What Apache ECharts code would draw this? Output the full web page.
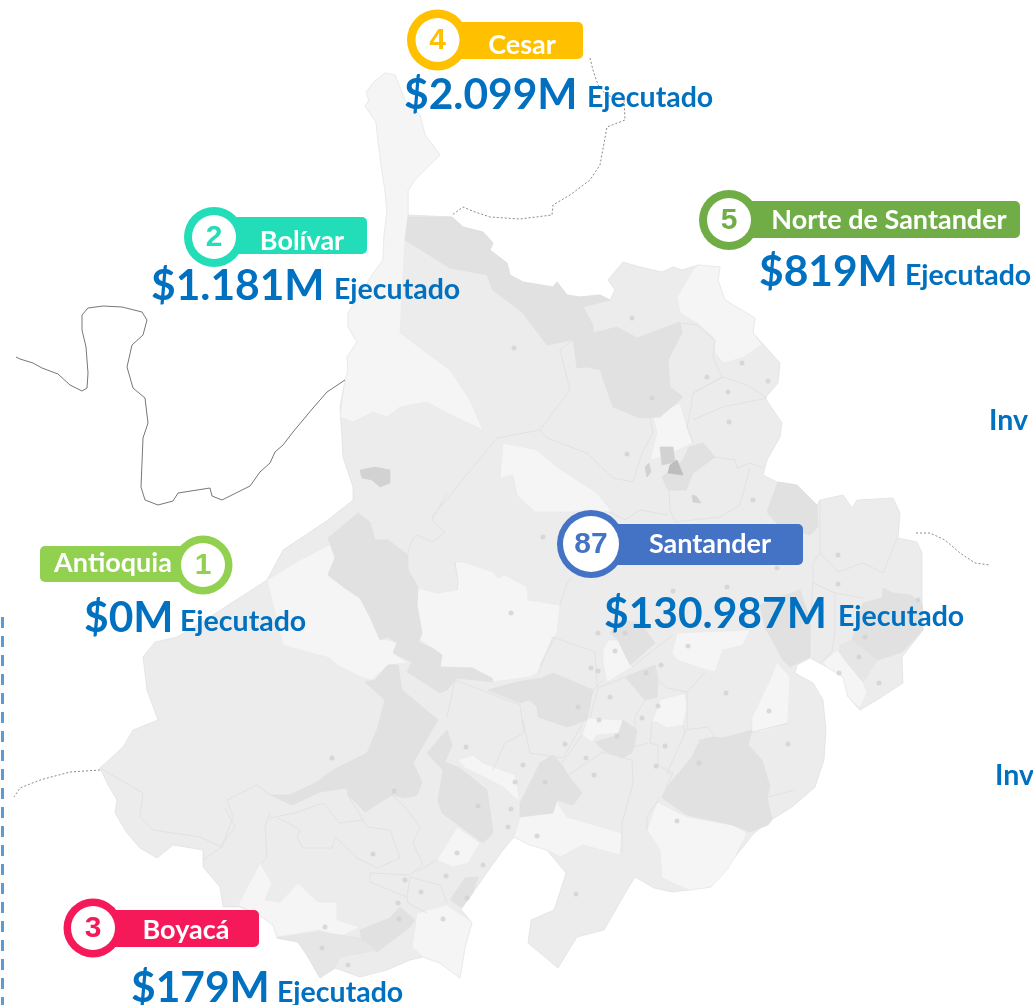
<!DOCTYPE html>
<html>
<head>
<meta charset="utf-8">
<title>Santander</title>
<script src="https://cdn.jsdelivr.net/npm/echarts@6/dist/echarts.min.js"></script>
<style>
  html, body { margin: 0; padding: 0; background: #fff; overflow: hidden; }
  #mapa { width: 1033px; height: 1005px; }
</style>
</head>
<body>
<div id="mapa"></div>
<script>
// datos
const departamentos = ["Antioquia", "Bolívar", "Boyacá", "Cesar", "Norte de Santander", "Santander"];
const rankings = ["1", "2", "3", "4", "5", "87"];
const ejecutado = ["$0M", "$1.181M", "$179M", "$2.099M", "$819M", "$130.987M"];
const sufijo = "Ejecutado";
const recortados = ["Inv", "Inv"];

// silueta del departamento
const silueta = [[385,73],[374,82],[366,92],[369,100],[365,106],[376,122],[378,140],[381,165],[385,190],[387,212],[384,236],[383,260],[372,275],[360,295],[348,313],[348,327],[357,342],[347,357],[348,370],[345,380],[340,407],[343,457],[353,487],[353,500],[328,520],[283,550],[267,580],[233,602],[205,620],[177,637],[155,642],[143,657],[147,690],[158,720],[133,730],[123,747],[100,768],[108,785],[117,800],[115,813],[127,833],[140,848],[157,858],[173,845],[203,850],[203,867],[220,887],[223,907],[240,907],[259,915],[273,925],[277,938],[298,942],[308,957],[320,978],[335,968],[360,977],[387,970],[410,960],[423,957],[440,963],[460,978],[465,947],[472,923],[460,908],[477,887],[490,868],[503,850],[514,837],[530,845],[547,850],[566,873],[560,892],[554,910],[531,920],[528,943],[558,968],[577,937],[604,930],[627,890],[635,877],[654,888],[672,892],[689,890],[711,887],[735,857],[754,833],[771,820],[792,807],[815,787],[824,760],[826,730],[823,700],[813,683],[795,673],[797,665],[810,658],[827,667],[843,677],[848,697],[860,710],[880,698],[903,683],[902,657],[923,630],[922,603],[922,553],[917,542],[898,538],[900,513],[893,498],[857,500],[852,508],[843,495],[820,500],[817,505],[797,485],[777,482],[763,475],[767,460],[780,437],[782,423],[765,398],[778,383],[780,363],[753,333],[755,318],[725,300],[718,280],[720,267],[698,265],[682,270],[673,267],[662,272],[640,267],[623,262],[608,280],[615,290],[610,300],[600,295],[580,297],[567,295],[557,282],[553,287],[523,282],[510,275],[507,263],[490,250],[493,243],[483,232],[463,227],[452,217],[408,215],[408,190],[415,180],[440,155],[425,135],[420,115],[405,100],[395,75]];

// municipios mas claros
const zonasClaras = [
  [[385,73],[374,82],[366,92],[369,100],[365,106],[376,122],[378,140],[381,165],[385,190],[387,212],[384,236],[383,260],[372,275],[360,295],[348,313],[348,327],[357,342],[347,357],[348,370],[345,380],[340,417],[353,422],[373,412],[387,417],[400,407],[427,402],[447,413],[483,430],[470,400],[450,370],[427,353],[400,333],[405,240],[408,215],[408,190],[415,180],[440,155],[425,135],[420,115],[405,100],[395,75]],
  [[503,443],[537,450],[557,467],[597,493],[612,512],[590,510],[570,512],[535,512],[517,495],[513,475],[500,478]],
  [[653,417],[680,403],[687,427],[693,443],[663,457],[650,460],[657,433]],
  [[677,297],[693,270],[698,265],[720,267],[718,280],[725,300],[755,318],[753,333],[762,345],[742,358],[723,363],[715,353],[713,337],[697,323],[680,313]],
  [[333,543],[335,558],[328,575],[345,588],[360,598],[370,617],[380,638],[398,643],[393,653],[408,663],[388,665],[372,680],[363,678],[337,665],[330,658],[300,650],[283,645],[267,580],[300,560]],
  [[455,562],[463,562],[493,572],[498,578],[505,575],[527,587],[528,600],[560,605],[557,633],[538,673],[530,677],[493,682],[473,668],[440,667],[442,655],[420,640],[422,633],[417,605],[418,588],[437,593],[457,590]],
  [[603,650],[608,640],[618,640],[632,667],[607,682],[603,663]],
  [[672,653],[677,633],[750,630],[743,645],[723,650],[715,672],[700,668],[677,660]],
  [[582,735],[588,718],[623,720],[620,733],[597,735],[592,742]],
  [[652,722],[660,700],[685,693],[687,707],[683,725],[667,728],[657,722]],
  [[752,732],[752,717],[770,680],[777,662],[790,677],[788,723],[763,732]],
  [[823,662],[837,650],[845,660],[863,682],[867,693],[860,708],[848,697],[843,677],[827,667]],
  [[647,830],[657,802],[687,817],[733,825],[747,833],[735,857],[727,870],[711,887],[689,890],[662,878],[660,850]],
  [[514,837],[520,817],[557,802],[567,817],[622,833],[620,855],[583,845],[560,857],[547,850],[530,845]],
  [[437,860],[457,827],[480,843],[468,863],[453,867]],
  [[458,760],[473,755],[483,763],[515,775],[520,802],[503,787],[490,780],[465,768]],
  [[412,947],[417,913],[447,905],[472,922],[465,947],[460,978],[440,963],[423,957]],
  [[238,905],[260,863],[272,883],[265,900],[280,902],[298,883],[318,902],[337,902],[337,920],[360,927],[340,937],[320,930],[277,937],[273,925],[259,915]]
];

// municipios mas oscuros
const zonasOscuras = [
  [[408,217],[452,217],[463,227],[483,232],[493,243],[490,250],[507,263],[510,275],[523,282],[553,287],[557,282],[567,295],[580,297],[600,295],[610,300],[583,307],[593,325],[573,340],[547,345],[523,313],[493,290],[487,275],[450,268],[405,240]],
  [[573,340],[593,325],[593,333],[617,327],[637,338],[680,322],[682,333],[668,360],[670,387],[683,397],[660,417],[640,418],[613,407],[600,370],[587,367],[577,368]],
  [[689,447],[703,443],[715,457],[693,473],[686,490],[668,490],[662,477],[683,460]],
  [[767,512],[778,482],[797,485],[817,505],[818,527],[810,535],[778,525]],
  [[328,538],[358,513],[370,522],[375,540],[388,540],[408,555],[408,570],[418,587],[417,605],[422,633],[418,642],[432,648],[442,655],[440,667],[472,668],[492,678],[493,682],[457,678],[447,690],[440,693],[420,680],[407,672],[412,662],[393,653],[397,643],[388,637],[380,640],[370,617],[360,598],[345,588],[328,575],[335,558]],
  [[488,690],[517,682],[542,678],[553,673],[593,690],[587,720],[567,727],[538,717],[537,707],[530,700],[520,703]],
  [[365,682],[375,680],[388,665],[398,665],[402,690],[438,720],[432,730],[413,763],[422,782],[417,795],[405,798],[392,795],[365,812],[348,795],[347,788],[320,792],[292,805],[270,795],[290,795],[317,782],[333,770],[353,760],[367,753],[377,730],[385,700]],
  [[625,677],[655,665],[658,680],[657,697],[645,700],[635,688]],
  [[610,633],[620,620],[640,623],[655,643],[630,665],[618,640]],
  [[595,742],[618,735],[623,720],[637,730],[632,753],[622,758],[603,750]],
  [[700,740],[713,737],[723,738],[752,730],[748,745],[762,760],[770,787],[767,797],[772,820],[768,825],[750,832],[733,825],[687,815],[662,798],[667,787],[692,757]],
  [[520,803],[540,763],[553,755],[562,765],[568,775],[582,793],[573,805],[557,800],[553,813],[520,817]],
  [[447,730],[427,753],[443,770],[438,800],[442,813],[483,843],[493,833],[487,790],[460,768],[445,762],[452,745]],
  [[450,900],[465,878],[478,877],[473,893],[462,908]],
  [[360,930],[390,918],[400,907],[415,920],[410,927],[377,952],[362,940]],
  [[760,605],[800,590],[810,620],[810,657],[790,667],[783,660],[765,627]],
  [[863,603],[882,598],[883,588],[893,593],[910,595],[922,603],[923,630],[902,652],[878,660],[868,652],[852,640]]
];

// municipios de tono intermedio
const zonasIntermedias = [
  [[277,938],[320,932],[360,938],[377,950],[340,957],[335,968],[320,978],[308,957],[298,942]],
  [[840,645],[852,640],[877,660],[863,682],[845,660],[840,652]]
];

// manchas urbanas
const manchasMedias = [
  [[360,470],[375,467],[390,470],[390,483],[380,487],[372,480],[362,478]],
  [[660,447],[673,447],[675,462],[662,465]],
  [[645,467],[649,463],[651,472],[647,477]],
  [[692,495],[696,496],[701,503],[693,502]]
];
const manchasFuertes = [
  [[670,465],[677,460],[683,475],[668,473]]
];

// limites internos
const limites = [
  [[497,438],[432,517]],
  [[497,438],[540,430],[570,390],[560,350],[573,340]],
  [[540,430],[547,438],[587,453],[613,478],[633,482],[642,453],[653,433],[650,418]],
  [[682,323],[697,325],[715,340],[713,357],[722,377],[693,393],[690,413],[687,427],[693,443]],
  [[693,393],[723,377],[747,385],[767,398],[723,407],[693,420]],
  [[715,457],[735,460],[737,468],[750,463],[763,468]],
  [[669,490],[670,510],[675,522],[720,517],[740,505],[750,467]],
  [[408,553],[412,540],[417,535],[433,542],[445,532],[432,520],[447,493]],
  [[457,590],[458,583],[455,562]],
  [[560,605],[567,583],[572,577]],
  [[538,673],[553,637],[595,652],[597,687]],
  [[555,637],[540,665]],
  [[447,717],[455,680],[520,705],[524,733],[505,743],[493,770]],
  [[523,720],[530,753],[563,758],[583,723]],
  [[582,735],[562,763]],
  [[568,775],[603,752],[632,760],[633,783],[622,823],[622,853]],
  [[603,680],[593,690]],
  [[590,718],[598,688],[625,677]],
  [[632,667],[673,635]],
  [[658,680],[667,688],[687,692],[705,672]],
  [[645,700],[635,717],[635,747]],
  [[652,722],[650,743],[658,745],[658,765]],
  [[633,747],[648,743]],
  [[683,725],[685,733],[667,773],[673,773]],
  [[685,730],[708,727],[715,737]],
  [[687,692],[687,730]],
  [[660,797],[647,817],[647,830]],
  [[657,765],[673,773],[662,797]],
  [[750,733],[788,723]],
  [[768,797],[795,790]],
  [[813,563],[820,553],[838,572],[863,563],[883,573],[897,538]],
  [[820,500],[820,553]],
  [[813,563],[813,583],[810,627],[807,655]],
  [[813,583],[835,593],[863,598]],
  [[835,593],[835,630],[832,652],[820,663]],
  [[100,768],[143,793],[140,817],[153,830],[200,837],[222,847],[233,817],[227,800],[257,785],[270,795]],
  [[203,860],[222,847]],
  [[225,808],[235,827],[220,847]],
  [[270,813],[265,827],[267,857],[262,863]],
  [[270,818],[295,813],[323,803],[340,823],[363,820],[367,827],[390,830],[400,858],[377,868],[357,858],[335,837],[332,848],[303,848],[297,837],[300,830],[295,827],[278,818]],
  [[363,820],[348,795]],
  [[392,795],[405,807],[420,827],[413,843],[423,865],[410,875],[370,873],[370,882],[407,897]],
  [[410,877],[407,897],[408,903],[427,913]],
  [[410,877],[440,885],[447,903]],
  [[417,872],[437,860]],
  [[610,512],[625,520],[640,510],[668,515]]
];

// lineas vecinas
const fronterasPunteadas = [
  [[590,58],[593,70],[598,85],[606,95],[624,100],[625,120],[607,127],[600,165],[590,180],[570,195],[553,205],[552,215],[520,219],[490,217],[475,212],[463,207],[452,215]],
  [[916,533],[930,533],[945,540],[960,553],[975,563],[990,565]],
  [[100,770],[70,772],[40,780],[20,788],[14,797]]
];
const fronteraContinua = [[16,357],[20,359],[33,363],[42,368],[58,374],[70,385],[82,391],[87,388],[88,373],[86,347],[82,330],[82,315],[88,308],[103,306],[122,307],[142,312],[147,320],[143,335],[132,345],[127,367],[133,388],[145,398],[148,423],[143,438],[141,487],[145,500],[158,505],[173,501],[178,493],[210,488],[212,496],[222,500],[250,486],[260,472],[270,463],[275,452],[283,445],[293,432],[313,408],[327,392],[345,380]];
const lineaAzul = [[2.5,617],[2.5,1005]];

// cabeceras municipales
const cabeceras = [[632,318],[514,348],[652,398],[627,454],[707,377],[728,392],[729,422],[742,363],[768,381],[753,500],[543,537],[838,555],[838,584],[777,568],[673,591],[727,587],[598,633],[625,633],[865,637],[918,600],[511,613],[615,651],[688,646],[591,668],[598,671],[646,673],[661,665],[610,697],[578,707],[658,706],[642,718],[599,720],[617,736],[665,746],[565,744],[586,758],[656,766],[523,765],[466,747],[594,775],[545,782],[515,782],[699,763],[726,693],[788,744],[769,711],[859,657],[839,673],[879,683],[394,791],[478,806],[511,809],[508,827],[537,836],[677,821],[457,853],[373,854],[405,880],[446,876],[483,865],[421,892],[467,898],[398,903],[399,919],[443,919],[576,894],[348,965],[332,758],[325,927],[322,948]];

// colores y posicion de cada etiqueta
const coloresEtiqueta = ["#92d050", "#22ddb8", "#f5195a", "#ffc000", "#70ad47", "#4472c4"];
const etiquetas = [
  { cx: 203, cy: 565, r: 29.5, ri: 22, x0: 40, x1: 203, y0: 546, y1: 582, tx: 113, ty: 563 },
  { cx: 214, cy: 237, r: 30, ri: 22, x0: 214, x1: 367, y0: 217, y1: 254, tx: 302, ty: 241 },
  { cx: 93, cy: 928, r: 29.5, ri: 22, x0: 93, x1: 259, y0: 910, y1: 947, tx: 186, ty: 930 },
  { cx: 437.5, cy: 40, r: 30.5, ri: 22, x0: 438, x1: 583, y0: 22, y1: 59, tx: 522, ty: 45 },
  { cx: 729, cy: 220, r: 30, ri: 22, x0: 729, x1: 1020, y0: 201, y1: 238, tx: 889, ty: 220 },
  { cx: 591, cy: 544, r: 34, ri: 28, x0: 593, x1: 803, y0: 524, y1: 565, tx: 710, ty: 544 }
];
const posValor = [
  { x: 84, y: 618, sx: 180, sy: 622 },
  { x: 151, y: 286, sx: 334, sy: 290 },
  { x: 131, y: 988, sx: 277, sy: 993 },
  { x: 404, y: 95, sx: 587, sy: 98 },
  { x: 759, y: 272, sx: 905, sy: 276 },
  { x: 604, y: 614, sx: 838, sy: 617 }
];
const posRecortados = [[989, 421], [995, 776]];

const AZUL = "#0070c0";
const FUENTE = "Lato, 'Noto Sans', sans-serif";

function feature(name, anillo) {
  return { type: "Feature", properties: { name: name }, geometry: { type: "Polygon", coordinates: [anillo] } };
}

let features = [];
let regiones = [];
function agregar(lista, prefijo, relleno, borde) {
  lista.forEach((anillo, i) => {
    let name = prefijo + i;
    features.push(feature(name, anillo));
    regiones.push({ name: name, itemStyle: { areaColor: relleno, borderColor: borde, borderWidth: 0.7 } });
  });
}
agregar([silueta], "base", "#ececec", "#e0e0e0");
agregar(zonasClaras, "clara", "#f5f5f5", "#e9e9e9");
agregar(zonasOscuras, "oscura", "#e1e1e1", "#dfdfdf");
agregar(zonasIntermedias, "intermedia", "#e6e6e6", "#e2e2e2");
agregar(manchasMedias, "media", "#d2d2d2", "#d2d2d2");
agregar(manchasFuertes, "fuerte", "#bdbdbd", "#bdbdbd");

echarts.registerMap("santander", { type: "FeatureCollection", features: features });

function texto(x, y, text, font, fill, align) {
  return {
    type: "text", z: 20, silent: true,
    style: { x: x, y: y, text: text, font: font, fill: fill, textAlign: align || "left", textVerticalAlign: "middle" }
  };
}

let graficos = [];
etiquetas.forEach((e, i) => {
  let color = coloresEtiqueta[i];
  graficos.push({ type: "rect", z: 10, silent: true, shape: { x: e.x0, y: e.y0, width: e.x1 - e.x0, height: e.y1 - e.y0, r: 5 }, style: { fill: color } });
  graficos.push({ type: "circle", z: 11, silent: true, shape: { cx: e.cx, cy: e.cy, r: e.r }, style: { fill: color } });
  graficos.push({ type: "circle", z: 12, silent: true, shape: { cx: e.cx, cy: e.cy, r: e.ri }, style: { fill: "#fff" } });
  graficos.push(texto(e.cx, e.cy + 1, rankings[i], "bold 30px 'Liberation Sans', sans-serif", color, "center"));
  graficos.push(texto(e.tx, e.ty, departamentos[i], "bold 27px " + FUENTE, "#fff", "center"));
  graficos.push(texto(posValor[i].x, posValor[i].y, ejecutado[i], "bold 42.5px " + FUENTE, AZUL));
  graficos.push(texto(posValor[i].sx, posValor[i].sy, sufijo, "bold 28.5px " + FUENTE, AZUL));
});
recortados.forEach((t, i) => {
  graficos.push(texto(posRecortados[i][0], posRecortados[i][1], t, "bold 28.5px " + FUENTE, AZUL));
});

let chart = echarts.init(document.getElementById("mapa"), null, { renderer: "canvas" });
let option = {
  backgroundColor: "#ffffff",
  animation: false,
  tooltip: { show: false },
  geo: {
    map: "santander",
    projection: { project: p => p, unproject: p => p },
    boundingCoords: [[0, 0], [1033, 1005]],
    left: 0, top: 0, right: 0, bottom: 0,
    roam: false,
    silent: true,
    label: { show: false },
    regions: regiones
  },
  series: [
    {
      type: "lines", coordinateSystem: "geo", polyline: true, silent: true, z: 3,
      lineStyle: { color: "#e2e2e2", width: 1, opacity: 1 },
      data: limites.map(l => ({ coords: l }))
    },
    {
      type: "scatter", coordinateSystem: "geo", silent: true, z: 4,
      symbolSize: 5,
      itemStyle: { color: "#d2d2d2" },
      data: cabeceras
    },
    {
      type: "lines", coordinateSystem: "geo", polyline: true, silent: true, z: 5,
      lineStyle: { color: "#8a8a8a", width: 1, type: [2, 2], opacity: 1 },
      data: fronterasPunteadas.map(l => ({ coords: l }))
    },
    {
      type: "lines", coordinateSystem: "geo", polyline: true, silent: true, z: 5,
      lineStyle: { color: "#777777", width: 1, opacity: 1 },
      data: [{ coords: fronteraContinua }]
    },
    {
      type: "lines", coordinateSystem: "geo", polyline: true, silent: true, z: 5,
      lineStyle: { color: "#5b9bd5", width: 3, type: [11, 8], opacity: 1 },
      data: [{ coords: lineaAzul }]
    }
  ],
  graphic: graficos
};
chart.setOption(option);
</script>
</body>
</html>
